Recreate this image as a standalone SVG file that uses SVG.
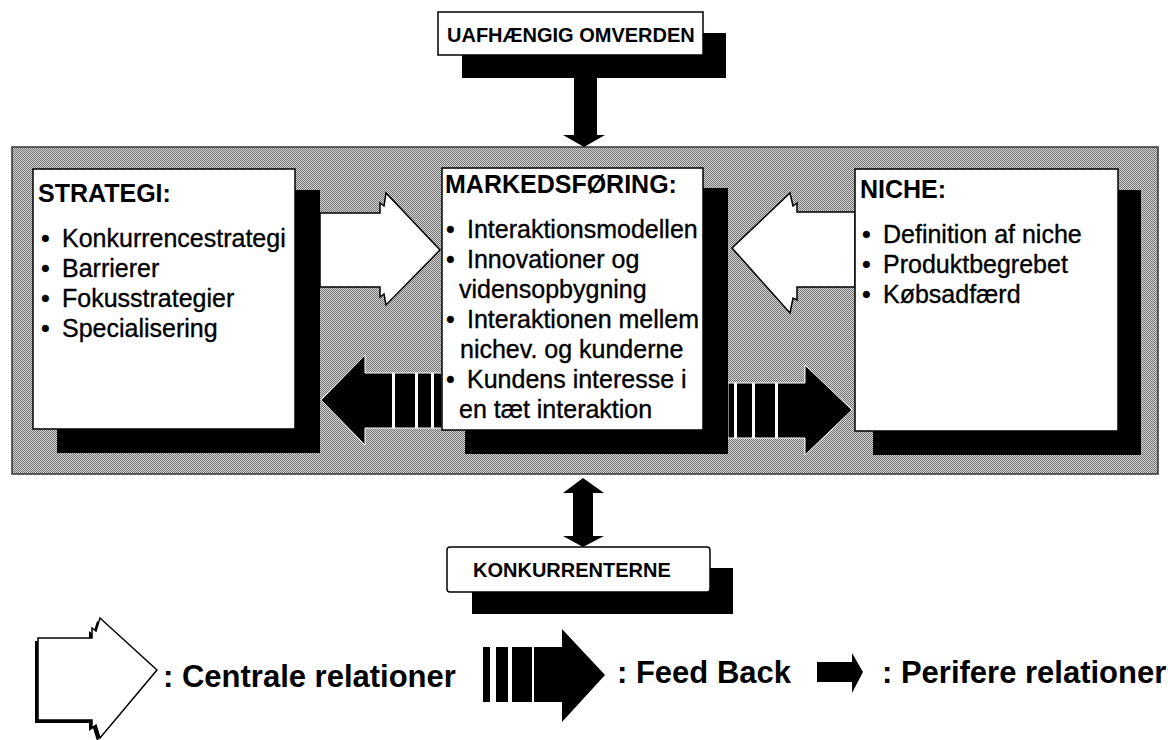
<svg xmlns="http://www.w3.org/2000/svg" width="1168" height="740" viewBox="0 0 1168 740">
<defs>
<style>
.t{font-family:"Liberation Sans",Arial,sans-serif;fill:#000}
.h{font-weight:bold;font-size:25px}
.i{font-size:25px;stroke:#000;stroke-width:0.35}
.lbl{font-weight:bold;font-size:20px}
.leg{font-weight:bold;font-size:31px}
.box{fill:#fff;stroke:#000;stroke-width:1.5}
.sh{fill:#000}
.wa{fill:#fff;stroke:#000;stroke-width:1.5;stroke-linejoin:miter}
.ba{fill:#000;stroke:#fff;stroke-width:1}
.st{fill:#fff}
</style>
<pattern id="dither" width="2" height="2" patternUnits="userSpaceOnUse">
<rect width="2" height="2" fill="#d4d4d4"/>
<rect width="1" height="1" fill="#747474"/>
<rect x="1" y="1" width="1" height="1" fill="#747474"/>
</pattern>
</defs>
<rect width="1168" height="740" fill="#fff"/>
<g id="system">
<rect x="12" y="147" width="1146" height="327" fill="url(#dither)" stroke="#333" stroke-width="1.5"/>
</g>
<g id="connectors">
<polygon class="sh" points="574,78 597,78 597,135 605,135 584,147 563,135 574,135"/>
<polygon class="sh" points="583,478 604,493 593,493 593,536 604,536 583,547 563,536 573,536 573,493 563,493"/>
<polygon class="wa" points="320,213 380,213 380,203 384,206 386,193 440,250 386,305 384,294 380,297 380,287 320,287"/>
<polygon class="wa" points="855,212 797,212 797,203 793,206 790,193 732,248 790,313 793,298 797,300 797,287 855,287"/>
<polygon class="ba" points="442,373 365,373 365,355 321,400 365,445 365,428 442,428"/>
<rect class="st" x="392" y="373" width="3" height="55"/>
<rect class="st" x="415" y="373" width="3" height="55"/>
<rect class="st" x="431" y="373" width="3" height="55"/>
<polygon class="ba" points="728,383 805,383 805,365 852,410 805,455 805,438 728,438"/>
<rect class="st" x="734" y="383" width="3" height="55"/>
<rect class="st" x="752" y="383" width="3" height="55"/>
<rect class="st" x="775" y="383" width="3" height="55"/>
</g>
<g id="node-omverden">
<rect class="sh" x="462" y="33" width="264" height="45"/>
<rect class="box" x="438" y="12" width="265" height="43" stroke-width="2"/>
<text class="t lbl" x="447" y="42">UAFHÆNGIG OMVERDEN</text>
</g>
<g id="node-strategi">
<rect class="sh" x="57" y="190" width="263" height="263"/>
<rect class="box" x="33" y="169" width="262" height="260"/>
<text class="t h" x="38" y="202">STRATEGI:</text>
<text class="t i"><tspan x="41" y="247">•</tspan><tspan x="62" y="247">Konkurrencestrategi</tspan></text>
<text class="t i"><tspan x="41" y="277">•</tspan><tspan x="62" y="277">Barrierer</tspan></text>
<text class="t i"><tspan x="41" y="307">•</tspan><tspan x="62" y="307">Fokusstrategier</tspan></text>
<text class="t i"><tspan x="41" y="337">•</tspan><tspan x="62" y="337">Specialisering</tspan></text>
</g>
<g id="node-markedsforing">
<rect class="sh" x="465" y="188" width="263" height="266"/>
<rect class="box" x="442" y="168" width="261" height="262"/>
<text class="t h" x="445" y="193">MARKEDSFØRING:</text>
<text class="t i"><tspan x="446" y="238">•</tspan><tspan x="467" y="238">Interaktionsmodellen</tspan></text>
<text class="t i"><tspan x="446" y="268">•</tspan><tspan x="467" y="268">Innovationer og</tspan></text>
<text class="t i" x="459" y="298">vidensopbygning</text>
<text class="t i"><tspan x="446" y="328">•</tspan><tspan x="467" y="328">Interaktionen mellem</tspan></text>
<text class="t i" x="460" y="358">nichev. og kunderne</text>
<text class="t i"><tspan x="446" y="388">•</tspan><tspan x="467" y="388">Kundens interesse i</tspan></text>
<text class="t i" x="459" y="418">en tæt interaktion</text>
</g>
<g id="node-niche">
<rect class="sh" x="873" y="190" width="268" height="265"/>
<rect class="box" x="855" y="169" width="263" height="262"/>
<text class="t h" x="860" y="198">NICHE:</text>
<text class="t i"><tspan x="862" y="243">•</tspan><tspan x="883" y="243">Definition af niche</tspan></text>
<text class="t i"><tspan x="862" y="273">•</tspan><tspan x="883" y="273">Produktbegrebet</tspan></text>
<text class="t i"><tspan x="862" y="303">•</tspan><tspan x="883" y="303">Købsadfærd</tspan></text>
</g>
<g id="node-konkurrenterne">
<rect class="sh" x="472" y="568" width="261" height="46"/>
<rect class="box" x="447" y="547" width="263" height="45" rx="3" stroke-width="2"/>
<text class="t lbl" x="473" y="577">KONKURRENTERNE</text>
</g>
<g id="legend">
<polygon class="sh" points="35,641 89,641 89,631 93,634 97,621 154,673 97,741 93,728 89,731 89,723 35,723"/>
<polygon class="wa" points="38,638 92,638 92,628 96,631 100,618 157,670 100,738 96,725 92,728 92,720 38,720"/>
<text class="t leg" x="163" y="687">: Centrale relationer</text>
<rect class="sh" x="483" y="647" width="7" height="55"/>
<rect class="sh" x="496" y="647" width="12" height="55"/>
<rect class="sh" x="512" y="647" width="20" height="55"/>
<polygon class="sh" points="534,647 562,647 562,629 605,675 562,722 562,702 534,702"/>
<text class="t leg" x="617" y="683">: Feed Back</text>
<polygon class="sh" points="817,662 852,662 852,653 863,672 852,693 852,682 817,682"/>
<text class="t leg" x="882" y="683">: Perifere relationer</text>
</g>
</svg>
